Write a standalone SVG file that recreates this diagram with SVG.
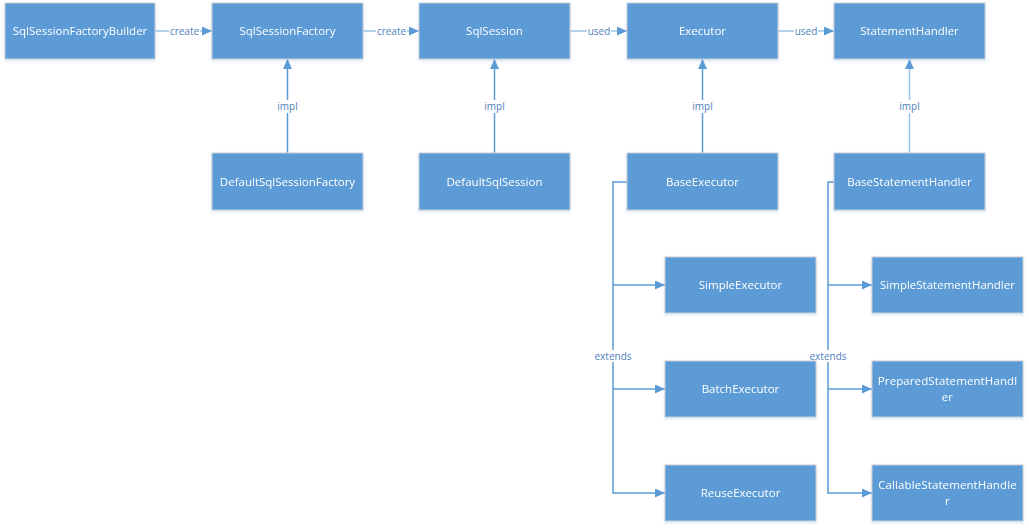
<svg xmlns="http://www.w3.org/2000/svg" width="1029" height="529" viewBox="0 0 1029 529">
  <style>
    .box { fill: #5B9BD5; stroke: #C9CED6; stroke-width: 1; }
    .name { fill: #FFFFFF; font-family: "Open Sans", "Noto Sans", sans-serif; font-size: 11.5px; text-anchor: middle; }
    .wire { fill: none; stroke: #5B9BD5; stroke-width: 1.5; }
    .soft { stroke: #9DC3E6; }
    .tag-bg { fill: #FFFFFF; }
    .tag { fill: #4F81BD; font-family: "Open Sans", "Noto Sans", sans-serif; font-size: 10px; text-anchor: middle; }
  </style>
  <defs>
    <marker id="arrow" markerWidth="10" markerHeight="10" refX="10" refY="4.5" orient="auto" markerUnits="userSpaceOnUse">
      <path d="M0,0 L10,4.5 L0,9 z" fill="#5B9BD5"/>
    </marker>
    <filter id="shadow" x="-10%" y="-10%" width="125%" height="130%">
      <feDropShadow dx="0" dy="1.5" stdDeviation="1.5" flood-color="#5B9BD5" flood-opacity="0.25"/>
    </filter>
  </defs>

  <rect width="1029" height="529" fill="#FFFFFF"/>

  <!-- connectors -->
  <g id="connectors">
    <path class="wire soft" d="M155,31 H212" marker-end="url(#arrow)"/>
    <path class="wire soft" d="M363,31 H419" marker-end="url(#arrow)"/>
    <path class="wire soft" d="M570,31 H627" marker-end="url(#arrow)"/>
    <path class="wire soft" d="M778,31 H834" marker-end="url(#arrow)"/>

    <path class="wire" d="M287.5,153 V59" marker-end="url(#arrow)"/>
    <path class="wire" d="M494.5,153 V59" marker-end="url(#arrow)"/>
    <path class="wire" d="M702.5,153 V59" marker-end="url(#arrow)"/>
    <path class="wire soft" d="M909.5,153 V59" marker-end="url(#arrow)"/>

    <!-- executor subclasses -->
    <path class="wire" d="M627,182 H613 V493 H665" marker-end="url(#arrow)"/>
    <path class="wire" d="M613,285 H665" marker-end="url(#arrow)"/>
    <path class="wire" d="M613,389 H665" marker-end="url(#arrow)"/>

    <!-- statement handler subclasses -->
    <path class="wire" d="M835,182 H828 V493 H872" marker-end="url(#arrow)"/>
    <path class="wire" d="M828,285 H872" marker-end="url(#arrow)"/>
    <path class="wire" d="M828,389 H872" marker-end="url(#arrow)"/>

    <!-- connector labels -->
    <rect class="tag-bg" x="169" y="25" width="31" height="12"/>
    <text class="tag" x="184.5" y="34.5">create</text>
    <rect class="tag-bg" x="376" y="25" width="31" height="12"/>
    <text class="tag" x="391.5" y="34.5">create</text>
    <rect class="tag-bg" x="587" y="25" width="24" height="12"/>
    <text class="tag" x="599" y="34.5">used</text>
    <rect class="tag-bg" x="794" y="25" width="24" height="12"/>
    <text class="tag" x="806" y="34.5">used</text>

    <rect class="tag-bg" x="277" y="100" width="21" height="13"/>
    <text class="tag" x="287.5" y="110">impl</text>
    <rect class="tag-bg" x="484" y="100" width="21" height="13"/>
    <text class="tag" x="494.5" y="110">impl</text>
    <rect class="tag-bg" x="692" y="100" width="21" height="13"/>
    <text class="tag" x="702.5" y="110">impl</text>
    <rect class="tag-bg" x="899" y="100" width="21" height="13"/>
    <text class="tag" x="909.5" y="110">impl</text>

    <rect class="tag-bg" x="596" y="350" width="34" height="12"/>
    <text class="tag" x="613" y="359.5">extends</text>
    <rect class="tag-bg" x="811" y="350" width="34" height="12"/>
    <text class="tag" x="828" y="359.5">extends</text>
  </g>

  <!-- top row -->
  <g id="SqlSessionFactoryBuilder" filter="url(#shadow)">
    <rect class="box" x="5" y="3" width="150" height="56"/>
    <text class="name" x="80" y="35">SqlSessionFactoryBuilder</text>
  </g>
  <g id="SqlSessionFactory" filter="url(#shadow)">
    <rect class="box" x="212" y="3" width="151" height="56"/>
    <text class="name" x="287.5" y="35">SqlSessionFactory</text>
  </g>
  <g id="SqlSession" filter="url(#shadow)">
    <rect class="box" x="419" y="3" width="151" height="56"/>
    <text class="name" x="494.5" y="35">SqlSession</text>
  </g>
  <g id="Executor" filter="url(#shadow)">
    <rect class="box" x="627" y="3" width="151" height="56"/>
    <text class="name" x="702.5" y="35">Executor</text>
  </g>
  <g id="StatementHandler" filter="url(#shadow)">
    <rect class="box" x="834" y="3" width="151" height="56"/>
    <text class="name" x="909.5" y="35">StatementHandler</text>
  </g>

  <!-- implementations -->
  <g id="DefaultSqlSessionFactory" filter="url(#shadow)">
    <rect class="box" x="212" y="153" width="151" height="57"/>
    <text class="name" x="287.5" y="186">DefaultSqlSessionFactory</text>
  </g>
  <g id="DefaultSqlSession" filter="url(#shadow)">
    <rect class="box" x="419" y="153" width="151" height="57"/>
    <text class="name" x="494.5" y="186">DefaultSqlSession</text>
  </g>
  <g id="BaseExecutor" filter="url(#shadow)">
    <rect class="box" x="627" y="153" width="151" height="57"/>
    <text class="name" x="702.5" y="186">BaseExecutor</text>
  </g>
  <g id="BaseStatementHandler" filter="url(#shadow)">
    <rect class="box" x="834" y="153" width="151" height="57"/>
    <text class="name" x="909.5" y="186">BaseStatementHandler</text>
  </g>

  <!-- executor subclasses -->
  <g id="SimpleExecutor" filter="url(#shadow)">
    <rect class="box" x="665" y="257" width="151" height="56"/>
    <text class="name" x="740.5" y="289">SimpleExecutor</text>
  </g>
  <g id="BatchExecutor" filter="url(#shadow)">
    <rect class="box" x="665" y="361" width="151" height="56"/>
    <text class="name" x="740.5" y="393">BatchExecutor</text>
  </g>
  <g id="ReuseExecutor" filter="url(#shadow)">
    <rect class="box" x="665" y="465" width="151" height="56"/>
    <text class="name" x="740.5" y="497">ReuseExecutor</text>
  </g>

  <!-- statement handler subclasses -->
  <g id="SimpleStatementHandler" filter="url(#shadow)">
    <rect class="box" x="872" y="257" width="151" height="56"/>
    <text class="name" x="947.5" y="289">SimpleStatementHandler</text>
  </g>
  <g id="PreparedStatementHandler" filter="url(#shadow)">
    <rect class="box" x="872" y="361" width="151" height="56"/>
    <text class="name" x="947.5" y="385" letter-spacing="0.1">PreparedStatementHandl</text>
    <text class="name" x="947.5" y="401" letter-spacing="0.1">er</text>
  </g>
  <g id="CallableStatementHandler" filter="url(#shadow)">
    <rect class="box" x="872" y="465" width="151" height="56"/>
    <text class="name" x="947.5" y="489" letter-spacing="0.1">CallableStatementHandle</text>
    <text class="name" x="947.5" y="505" letter-spacing="0.1">r</text>
  </g>
</svg>
